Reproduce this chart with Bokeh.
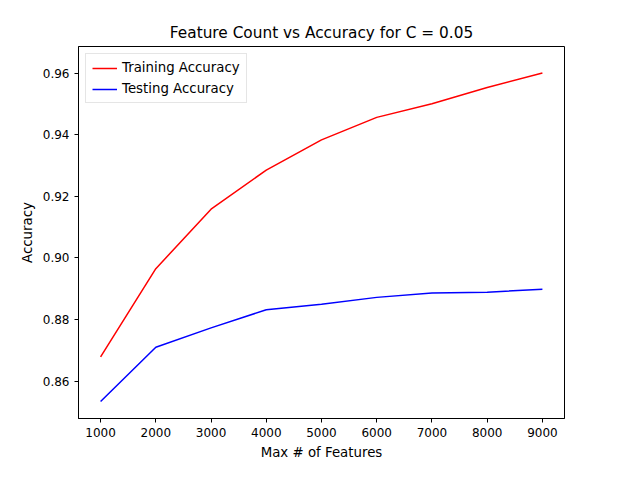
from bokeh.plotting import figure
from bokeh.models import Range1d, Legend, LegendItem, FixedTicker, PrintfTickFormatter
from bokeh.embed import file_html
from bokeh.resources import INLINE

features = [1000, 2000, 3000, 4000, 5000, 6000, 7000, 8000, 9000]
train_acc = [0.8679, 0.8965, 0.9158, 0.9285, 0.9383, 0.9456, 0.9500, 0.9553, 0.9600]
test_acc = [0.8534, 0.8710, 0.8773, 0.8832, 0.8850, 0.8872, 0.8886, 0.8889, 0.8898]
yticks = [0.86, 0.88, 0.90, 0.92, 0.94, 0.96]
xticks = features

p = figure(width=624, height=464, output_backend="svg", toolbar_location=None,
           x_range=Range1d(600, 9400), y_range=Range1d(0.8479, 0.9686),
           title="Feature Count vs Accuracy for C = 0.05",
           min_border_left=78, min_border_right=60, min_border_top=46, min_border_bottom=46)
p.title.align = "center"
p.title.text_font = "DejaVu Sans"
p.title.text_font_size = "11.5pt"
p.title.text_font_style = "normal"
p.title.text_color = "black"
p.xgrid.visible = False
p.ygrid.visible = False
p.outline_line_color = "black"
p.outline_line_alpha = 1
for ax in (p.xaxis[0], p.yaxis[0]):
    ax.axis_label_text_font = "DejaVu Sans"
    ax.axis_label_text_font_style = "normal"
    ax.axis_label_text_font_size = "10pt"
    ax.axis_label_text_color = "black"
    ax.major_label_text_font = "DejaVu Sans"
    ax.major_label_text_font_size = "9pt"
    ax.major_label_text_color = "black"
    ax.minor_tick_line_color = None
    ax.major_tick_in = 0
    ax.major_tick_out = 4
    ax.major_tick_line_color = "black"
    ax.axis_line_color = "black"
p.xaxis.axis_label = "Max # of Features"
p.yaxis.axis_label = "Accuracy"
p.xaxis.ticker = FixedTicker(ticks=xticks)
p.yaxis.ticker = FixedTicker(ticks=yticks)
p.yaxis.formatter = PrintfTickFormatter(format="%.2f")

r1 = p.line(features, train_acc, line_color="red", line_width=1.5)
r2 = p.line(features, test_acc, line_color="blue", line_width=1.5)
leg = Legend(items=[LegendItem(label="Training Accuracy", renderers=[r1]),
                    LegendItem(label="Testing Accuracy", renderers=[r2])],
             location="top_left", label_text_font="DejaVu Sans", label_text_font_size="10pt",
             label_text_color="black",
             border_line_color="#cccccc", glyph_width=25, spacing=6, padding=6, margin=7,
             label_height=14, glyph_height=14)
p.add_layout(leg)

open("out.html", "w").write(file_html(p, INLINE))
